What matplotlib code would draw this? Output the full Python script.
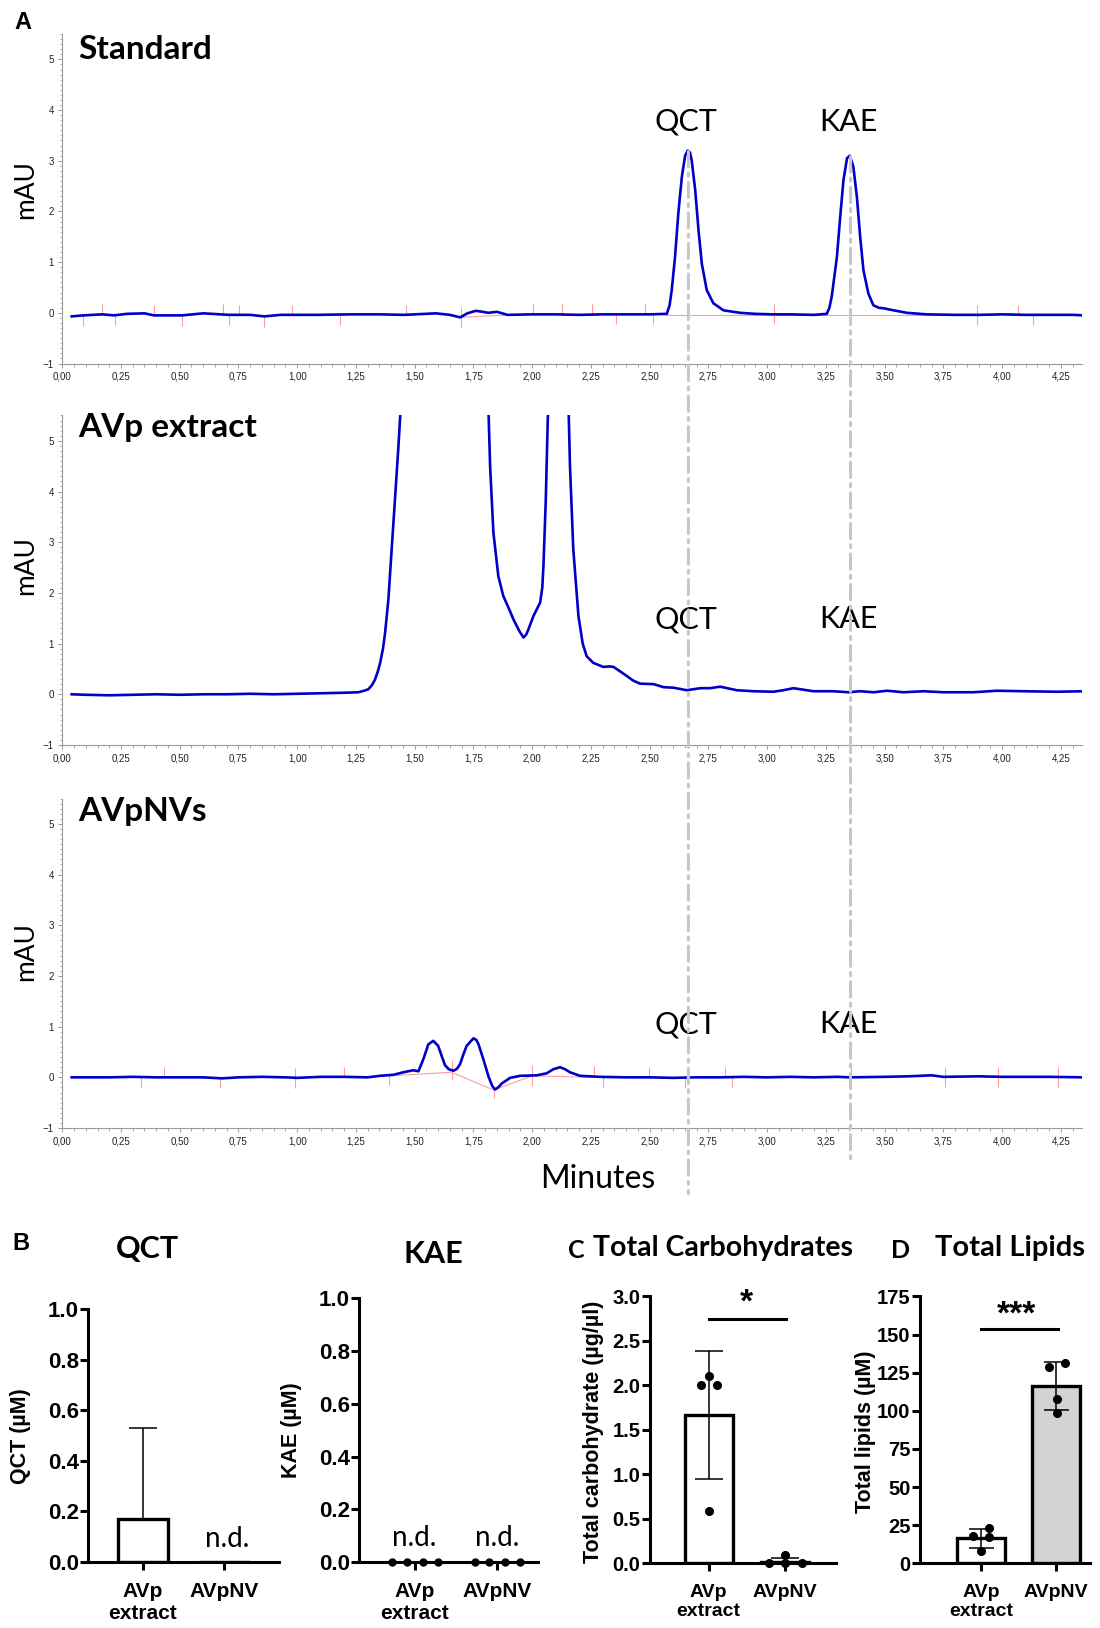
import numpy as np
import matplotlib
matplotlib.use("Agg")
import matplotlib.pyplot as plt
from matplotlib.patches import ConnectionPatch
from matplotlib.ticker import MultipleLocator, FuncFormatter

plt.rcParams['font.family'] = ['Liberation Sans', 'DejaVu Sans']

# ---- chromatograms (minutes, mAU) ----
std_t = [0.04, 0.09, 0.17, 0.22, 0.275, 0.35, 0.39, 0.51, 0.60, 0.71, 0.80, 0.86, 0.93, 1.08,
         1.23, 1.35, 1.455, 1.59, 1.65, 1.694, 1.724, 1.76, 1.79, 1.813, 1.85, 1.895, 2.0, 2.1,
         2.2, 2.3, 2.4, 2.5, 2.573, 2.585, 2.594, 2.608, 2.622, 2.637, 2.651, 2.662, 2.672,
         2.679, 2.694, 2.708, 2.722, 2.743, 2.771, 2.814, 2.885, 2.95, 3.027, 3.1, 3.2, 3.254,
         3.265, 3.275, 3.297, 3.311, 3.325, 3.34, 3.352, 3.367, 3.382, 3.396, 3.41, 3.431,
         3.452, 3.475, 3.495, 3.538, 3.595, 3.68, 3.8, 3.9, 4.0, 4.1, 4.2, 4.3, 4.35]
std_mau = [-0.07, -0.05, -0.03, -0.05, -0.02, -0.01, -0.05, -0.05, -0.01, -0.04, -0.04, -0.07,
           -0.04, -0.04, -0.03, -0.03, -0.04, -0.01, -0.04, -0.09, -0.01, 0.04, 0.02, 0.0, 0.02,
           -0.04, -0.03, -0.03, -0.04, -0.03, -0.03, -0.03, -0.02, 0.15, 0.45, 1.1, 1.96, 2.68,
           3.1, 3.2, 3.16, 3.01, 2.42, 1.63, 0.97, 0.45, 0.19, 0.05, 0.0, -0.02, -0.03, -0.03,
           -0.04, -0.02, 0.1, 0.32, 1.1, 1.89, 2.62, 3.05, 3.1, 2.88, 2.29, 1.5, 0.84, 0.38,
           0.15, 0.1, 0.09, 0.05, 0.0, -0.03, -0.04, -0.04, -0.03, -0.04, -0.04, -0.04, -0.05]

ext_t = [0.04, 0.1, 0.2, 0.3, 0.4, 0.5, 0.6, 0.7, 0.8, 0.9, 1.0, 1.1, 1.2, 1.26, 1.285, 1.303,
         1.318, 1.331, 1.343, 1.353, 1.365, 1.374, 1.388, 1.402, 1.416, 1.43, 1.445, np.nan,
         1.81, 1.814, 1.821, 1.835, 1.856, 1.877, 1.90, 1.92, 1.945, 1.963, 1.975, 1.984, 2.005,
         2.02, 2.034, 2.043, 2.048, 2.058, 2.065, 2.07, np.nan, 2.153, 2.161, 2.175, 2.197,
         2.215, 2.232, 2.26, 2.303, 2.33, 2.346, 2.375, 2.403, 2.43, 2.459, 2.517, 2.559, 2.601,
         2.658, 2.715, 2.757, 2.8, 2.871, 2.942, 3.027, 3.069, 3.112, 3.197, 3.282, 3.346,
         3.396, 3.453, 3.51, 3.58, 3.665, 3.751, 3.878, 3.978, 4.091, 4.233, 4.35]
ext_mau = [0.0, -0.01, -0.02, -0.01, 0.0, -0.01, 0.0, 0.0, 0.01, 0.0, 0.01, 0.02, 0.03, 0.04,
           0.07, 0.1, 0.18, 0.29, 0.45, 0.62, 0.9, 1.21, 1.87, 2.86, 3.84, 4.83, 6.0, np.nan,
           6.0, 5.6, 4.5, 3.19, 2.33, 1.94, 1.7, 1.48, 1.25, 1.12, 1.18, 1.28, 1.54, 1.68, 1.81,
           2.1, 2.53, 3.84, 5.16, 6.0, np.nan, 6.0, 4.5, 2.86, 1.54, 1.0, 0.75, 0.62, 0.54,
           0.55, 0.54, 0.45, 0.36, 0.27, 0.21, 0.2, 0.14, 0.13, 0.08, 0.12, 0.12, 0.15, 0.08,
           0.06, 0.05, 0.08, 0.12, 0.06, 0.06, 0.04, 0.06, 0.04, 0.07, 0.04, 0.06, 0.04, 0.04,
           0.07, 0.06, 0.05, 0.06]

nv_t = [0.04, 0.1, 0.2, 0.3, 0.4, 0.5, 0.6, 0.68, 0.75, 0.85, 0.95, 1.0, 1.1, 1.2, 1.3, 1.352,
        1.409, 1.452, 1.494, 1.516, 1.537, 1.558, 1.579, 1.6, 1.615, 1.629, 1.645, 1.665, 1.68,
        1.693, 1.707, 1.721, 1.75, 1.762, 1.771, 1.792, 1.814, 1.83, 1.842, 1.855, 1.871, 1.906,
        1.949, 2.02, 2.062, 2.09, 2.119, 2.14, 2.161, 2.204, 2.289, 2.4, 2.5, 2.6, 2.7, 2.8, 2.9,
        3.0, 3.1, 3.2, 3.3, 3.35, 3.5, 3.6, 3.7, 3.75, 3.9, 4.0, 4.1, 4.2, 4.35]
nv_mau = [0.0, 0.0, 0.0, 0.01, 0.0, 0.0, 0.0, -0.02, 0.0, 0.01, 0.0, -0.01, 0.01, 0.01, 0.0,
          0.03, 0.05, 0.1, 0.14, 0.12, 0.36, 0.65, 0.72, 0.62, 0.42, 0.24, 0.16, 0.13, 0.17,
          0.26, 0.45, 0.62, 0.77, 0.74, 0.66, 0.36, 0.02, -0.17, -0.24, -0.2, -0.12, -0.01, 0.03,
          0.04, 0.08, 0.16, 0.2, 0.16, 0.1, 0.03, 0.01, 0.0, 0.0, -0.01, 0.0, 0.0, 0.01, 0.0,
          0.01, 0.0, 0.01, 0.0, 0.01, 0.02, 0.04, 0.01, 0.02, 0.01, 0.01, 0.01, 0.0]

# integration marks of the software (retention time, direction)
std_marks_up = [0.17, 0.39, 0.684, 0.753, 0.977, 1.465, 2.003, 2.128, 2.253, 2.482, 4.067]
std_marks_down = [0.09, 0.224, 0.509, 0.711, 0.859, 1.181, 2.355, 2.515, 4.133]
std_marks_both = [1.695, 3.03, 3.893]
std_base_t = [[1.69, 1.90], [2.57, 3.75]]
std_base_y = [[-0.09, -0.04], [-0.04, -0.04]]

nv_marks_up = [0.432, 1.198, 2.264, 2.496, 2.821, 3.355]
nv_marks_down = [0.334, 0.672, 1.39, 1.836, 2.301, 2.65, 2.849]
nv_marks_both = [0.99, 1.657, 2.0, 3.757, 3.981, 4.239]
nv_base_t = [[1.39, 1.657, 1.836, 2.0, 2.264]]
nv_base_y = [[0.03, 0.1, -0.25, 0.03, 0.0]]

qct_rt = 2.665
kae_rt = 3.355

# ---- quantification ----
groups = ['AVp\nextract', 'AVpNV']
qct_mean = [0.17, 0.0]
qct_sd = [0.36, 0.0]
kae_dots = [[0, 0, 0, 0], [0, 0, 0, 0]]
kae_offs = [-0.27, -0.09, 0.1, 0.28]

carb_mean = [1.67, 0.02]
carb_sd = [0.72, 0.045]
carb_dots = [[2.0, 2.1, 2.0, 0.59], [0.0, 0.09, 0.0, 0.0]]
carb_offs = [[-0.1, 0.0, 0.11, 0.0], [-0.21, 0.0, 0.22, 0.0]]

lip_mean = [16.5, 116.5]
lip_sd = [6.3, 15.7]
lip_dots = [[17.9, 22.9, 17.4, 8.1], [128.6, 131.2, 107.9, 98.5]]
lip_offs = [[-0.11, 0.11, 0.11, 0.0], [-0.09, 0.115, 0.01, 0.01]]

fig = plt.figure(figsize=(11, 16.28), dpi=100)

BLUE = '#0000c8'
MARK = '#ff9c9c'
GREY = '#c8c8c8'
LATO = ['Lato', 'DejaVu Sans']
comma = FuncFormatter(lambda v, p: ('%.2f' % v).replace('.', ','))

chrom = [(std_t, std_mau, 'Standard', 0.7767, 0.9693, 0.8833, 3.77),
         (ext_t, ext_mau, 'AVp extract', 0.5424, 0.7377, 0.6523, 1.48),
         (nv_t, nv_mau, 'AVpNVs', 0.3071, 0.5018, 0.4152, 1.05)]
axs = []
for t, y, name, bot, ty, ly, lab_y in chrom:
    ax = fig.add_axes([0.0566, bot, 0.927, 0.2024])
    ax.plot(t, y, color=BLUE, lw=1.9, zorder=3)
    ax.set_xlim(0, 4.34)
    ax.set_ylim(-1, 5.5)
    for s in ['top', 'right']:
        ax.spines[s].set_visible(False)
    for s in ['left', 'bottom']:
        ax.spines[s].set_color('#9a9a9a')
        ax.spines[s].set_linewidth(0.8)
    ax.xaxis.set_major_locator(MultipleLocator(0.25))
    ax.xaxis.set_minor_locator(MultipleLocator(0.05))
    ax.yaxis.set_major_locator(MultipleLocator(1))
    ax.yaxis.set_minor_locator(MultipleLocator(0.1))
    ax.xaxis.set_major_formatter(comma)
    ax.tick_params(which='major', length=3, width=0.7, color='#9a9a9a', labelsize=7,
                   labelcolor='#222222', pad=3)
    ax.tick_params(which='minor', length=1.8, width=0.6, color='#9a9a9a')
    fig.text(0.0709, ty, name, fontsize=24, fontweight='bold', family=LATO,
             ha='left', va='center')
    fig.text(0.0236, ly, 'mAU', fontsize=19, family=LATO, rotation=90,
             ha='center', va='center')
    ax.text(qct_rt - 0.01, lab_y, 'QCT', fontsize=22, family=LATO, ha='center', va='center')
    ax.text(kae_rt - 0.01, lab_y, 'KAE', fontsize=22, family=LATO, ha='center', va='center')
    axs.append(ax)

# integration marks
for ax, t, y, ups, downs, boths, bt, by in [
        (axs[0], std_t, std_mau, std_marks_up, std_marks_down, std_marks_both, std_base_t, std_base_y),
        (axs[2], nv_t, nv_mau, nv_marks_up, nv_marks_down, nv_marks_both, nv_base_t, nv_base_y)]:
    tt = np.array(t, dtype=float)
    yy = np.array(y, dtype=float)
    base = lambda x: np.interp(x, tt, yy)
    ax.vlines(ups, base(ups), base(ups) + 0.2, color=MARK, lw=0.8, zorder=2)
    ax.vlines(downs, base(downs) - 0.2, base(downs), color=MARK, lw=0.8, zorder=2)
    ax.vlines(boths, base(boths) - 0.2, base(boths) + 0.2, color=MARK, lw=0.8, zorder=2)
    for xs, ys in zip(bt, by):
        ax.plot(xs, ys, color=MARK, lw=0.8, zorder=2)

fig.text(0.021, 0.9859, 'A', fontsize=17, fontweight='bold', ha='center', va='center')
fig.text(598 / 1100, 1 - 1179 / 1628, 'Minutes', fontsize=23, family=LATO,
         ha='center', va='center')

for rt, top, bottom in [(qct_rt, 3.18, -2.3), (kae_rt, 3.08, -1.63)]:
    con = ConnectionPatch(xyA=(rt, top), coordsA=axs[0].transData,
                          xyB=(rt, bottom), coordsB=axs[2].transData,
                          color=GREY, lw=2.2, linestyle=(0, (5, 2, 1, 2)), zorder=5)
    fig.add_artist(con)


# ---- bar panels ----
def style_bar(ax, yticks, fmt, xlim, tsize, xsize):
    for s in ['top', 'right']:
        ax.spines[s].set_visible(False)
    for s in ['left', 'bottom']:
        ax.spines[s].set_linewidth(2.2)
    ax.set_xlim(*xlim)
    ax.set_ylim(yticks[0], yticks[-1])
    ax.set_yticks(yticks, [fmt % v for v in yticks], fontweight='bold', fontsize=tsize)
    ax.set_xticks([0, 1], groups, fontweight='bold', fontsize=xsize, linespacing=1.2)
    ax.tick_params(width=2.2, length=6)
    ax.tick_params(axis='y', pad=1)
    ax.tick_params(axis='x', pad=8.5)


ax_q = fig.add_axes([0.0804, 0.0405, 0.1731, 0.1554])
ax_q.bar([0, 1], qct_mean, width=0.62, color='white', edgecolor='black', lw=2.4, zorder=2)
ax_q.errorbar([0], qct_mean[:1], yerr=[[0], qct_sd[:1]], fmt='none', ecolor='black',
              elinewidth=1.1, capsize=10, capthick=1.1, zorder=3)
style_bar(ax_q, [0, 0.2, 0.4, 0.6, 0.8, 1.0], '%.1f', (-0.67, 1.67), 16, 15)
ax_q.text(1.03, 0.09, 'n.d.', fontsize=20, family=LATO, ha='center', va='center')

ax_k = fig.add_axes([0.3268, 0.0405, 0.1623, 0.1619])
for i in range(2):
    ax_k.plot([i + o for o in kae_offs], kae_dots[i], 'o', color='black', ms=5,
              clip_on=False, zorder=4)
    ax_k.text(i + 0.0, 0.09, 'n.d.', fontsize=20, family=LATO, ha='center', va='center')
style_bar(ax_k, [0, 0.2, 0.4, 0.6, 0.8, 1.0], '%.1f', (-0.67, 1.5), 16, 15)

ax_c = fig.add_axes([0.5909, 0.0397, 0.169, 0.164])
ax_c.bar([0, 1], carb_mean, width=0.63, color='white', edgecolor='black', lw=2.4, zorder=2)
ax_c.errorbar([0, 1], carb_mean, yerr=carb_sd, fmt='none', ecolor='black', elinewidth=1.1,
              capsize=10, capthick=1.1, zorder=3)
for i in range(2):
    ax_c.plot([i + o for o in carb_offs[i]], carb_dots[i], 'o', color='black', ms=5.5,
              clip_on=False, zorder=4)
style_bar(ax_c, [0, 0.5, 1.0, 1.5, 2.0, 2.5, 3.0], '%.1f', (-0.77, 1.67), 14.5, 14)
ax_c.plot([0, 1.02], [2.75, 2.75], color='black', lw=2.2, clip_on=False)
ax_c.text(0.5, 2.93, '*', fontsize=24, fontweight='bold', ha='center', va='center')

ax_l = fig.add_axes([0.8364, 0.0397, 0.1545, 0.164])
ax_l.bar([0, 1], lip_mean, width=0.64, color=['white', '#d3d3d3'], edgecolor='black', lw=2.4,
         zorder=2)
ax_l.errorbar([0, 1], lip_mean, yerr=lip_sd, fmt='none', ecolor='black', elinewidth=1.1,
              capsize=9, capthick=1.1, zorder=3)
for i in range(2):
    ax_l.plot([i + o for o in lip_offs[i]], lip_dots[i], 'o', color='black', ms=5.5,
              clip_on=False, zorder=4)
style_bar(ax_l, [0, 25, 50, 75, 100, 125, 150, 175], '%d', (-0.81, 1.45), 14.5, 14)
ax_l.plot([0, 1.02], [153.6, 153.6], color='black', lw=2.2, clip_on=False)
ax_l.text(0.48, 163, '***', fontsize=24, fontweight='bold', ha='center', va='center')

# panel titles and axis labels
fig.text(21 / 1100, 1 - 1243 / 1628, 'B', fontsize=17, fontweight='bold', ha='center', va='center')
fig.text(147 / 1100, 1 - 1249 / 1628, 'QCT', fontsize=22, fontweight='bold', family=LATO,
         ha='center', va='center')
fig.text(433 / 1100, 1 - 1254 / 1628, 'KAE', fontsize=22, fontweight='bold', family=LATO,
         ha='center', va='center')
fig.text(576 / 1100, 1 - 1250 / 1628, 'C', fontsize=18, fontweight='bold', family=LATO,
         ha='center', va='center')
fig.text(723 / 1100, 1 - 1248 / 1628, 'Total Carbohydrates', fontsize=20.5, fontweight='bold',
         family=LATO, ha='center', va='center')
fig.text(900.8 / 1100, 1 - 1250 / 1628, 'D', fontsize=18, fontweight='bold', family=LATO,
         ha='center', va='center')
fig.text(1010 / 1100, 1 - 1248 / 1628, 'Total Lipids', fontsize=21, fontweight='bold',
         family=LATO, ha='center', va='center')

for x, y, s in [(21, 1436, 'QCT (µM)'), (291, 1430, 'KAE (µM)'),
                (594, 1432, 'Total carbohydrate (µg/µl)'), (865, 1432, 'Total lipids (µM)')]:
    fig.text(x / 1100, 1 - y / 1628, s, fontsize=15.5, fontweight='bold', rotation=90,
             ha='center', va='center')

fig.savefig('out.png', dpi=100)
